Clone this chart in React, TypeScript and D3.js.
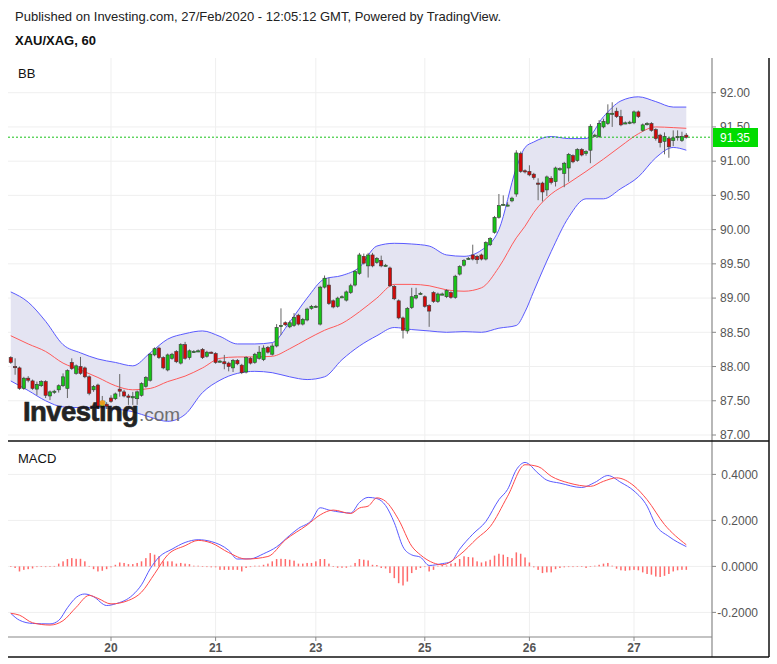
import React from 'react';
import * as d3 from 'd3';

// hourly candles: [open, high, low, close]
const candles: [number, number, number, number][] = [
  [88.13, 88.15, 88.04, 88.06], [88.0, 88.12, 87.88, 87.99], [87.98, 88.0, 87.66, 87.68], [87.68, 87.85, 87.66, 87.83],
  [87.83, 87.86, 87.77, 87.8], [87.79, 87.81, 87.66, 87.68], [87.67, 87.78, 87.58, 87.74], [87.72, 87.8, 87.7, 87.78],
  [87.78, 87.8, 87.54, 87.58], [87.57, 87.65, 87.51, 87.63], [87.63, 87.66, 87.6, 87.64], [87.66, 87.74, 87.62, 87.72],
  [87.72, 87.9, 87.7, 87.85], [87.68, 87.96, 87.54, 87.94], [88.06, 88.12, 87.95, 87.97], [87.9, 88.03, 87.88, 88.01],
  [88.0, 88.14, 87.88, 87.9], [87.98, 88.0, 87.83, 87.85], [87.85, 87.87, 87.58, 87.61], [87.66, 87.73, 87.63, 87.71],
  [87.73, 87.75, 87.39, 87.41], [87.41, 87.57, 87.39, 87.48], [87.45, 87.48, 87.38, 87.42], [87.54, 87.58, 87.47, 87.49],
  [87.53, 87.62, 87.51, 87.6], [87.67, 87.89, 87.56, 87.64], [87.63, 87.66, 87.55, 87.57], [87.57, 87.6, 87.44, 87.55],
  [87.56, 87.63, 87.44, 87.56], [87.53, 87.65, 87.44, 87.63], [87.58, 87.77, 87.56, 87.75], [87.71, 87.86, 87.69, 87.84],
  [87.8, 88.2, 87.78, 88.18], [88.17, 88.28, 88.15, 88.26], [88.27, 88.29, 88.11, 88.13], [88.13, 88.15, 87.96, 87.98],
  [87.95, 88.19, 87.93, 88.17], [88.12, 88.2, 88.1, 88.18], [88.22, 88.24, 88.05, 88.07], [88.05, 88.34, 88.03, 88.32],
  [88.32, 88.36, 88.1, 88.12], [88.13, 88.25, 88.1, 88.23], [88.22, 88.24, 88.2, 88.22], [88.22, 88.25, 88.21, 88.23],
  [88.25, 88.27, 88.11, 88.13], [88.15, 88.23, 88.13, 88.21], [88.21, 88.22, 88.19, 88.2], [88.19, 88.21, 88.04, 88.06],
  [88.08, 88.1, 88.06, 88.08], [88.07, 88.17, 87.96, 88.04], [88.05, 88.07, 87.93, 88.0], [87.98, 88.11, 87.92, 88.09],
  [88.09, 88.11, 88.02, 88.04], [88.02, 88.04, 87.89, 87.91], [87.92, 88.15, 87.9, 88.13], [88.12, 88.14, 88.03, 88.05],
  [88.06, 88.2, 88.04, 88.18], [88.12, 88.3, 88.1, 88.21], [88.1, 88.31, 88.08, 88.27], [88.28, 88.3, 88.19, 88.21],
  [88.18, 88.34, 88.16, 88.3], [88.3, 88.62, 88.28, 88.57], [88.6, 88.85, 88.46, 88.6], [88.64, 88.66, 88.59, 88.61],
  [88.58, 88.67, 88.56, 88.64], [88.6, 88.78, 88.58, 88.72], [88.75, 88.77, 88.6, 88.62], [88.62, 88.71, 88.6, 88.69],
  [88.68, 88.86, 88.66, 88.84], [88.85, 88.9, 88.83, 88.88], [88.88, 88.9, 88.86, 88.88], [88.62, 89.18, 88.6, 89.16],
  [89.16, 89.33, 89.14, 89.29], [89.19, 89.3, 88.9, 88.92], [88.96, 88.98, 88.85, 88.87], [88.88, 89.02, 88.86, 89.0],
  [89.02, 89.04, 89.0, 89.02], [88.97, 89.11, 88.95, 89.09], [89.08, 89.21, 89.06, 89.18], [89.19, 89.41, 89.17, 89.39],
  [89.36, 89.66, 89.34, 89.63], [89.61, 89.65, 89.49, 89.51], [89.47, 89.66, 89.3, 89.63], [89.63, 89.66, 89.45, 89.47],
  [89.52, 89.6, 89.5, 89.58], [89.55, 89.62, 89.45, 89.47], [89.48, 89.5, 89.46, 89.48], [89.44, 89.46, 89.16, 89.18],
  [89.17, 89.19, 88.97, 88.99], [88.96, 88.98, 88.69, 88.71], [88.71, 88.73, 88.41, 88.53], [88.52, 88.87, 88.48, 88.85],
  [88.86, 89.15, 88.84, 89.02], [89.0, 89.15, 88.98, 89.04], [89.07, 89.09, 89.05, 89.07], [89.02, 89.04, 88.86, 88.88],
  [88.89, 88.91, 88.58, 88.81], [89.08, 89.1, 88.93, 88.95], [88.95, 89.08, 88.93, 89.06], [89.06, 89.08, 89.04, 89.06],
  [89.02, 89.13, 89.0, 89.11], [89.08, 89.1, 88.99, 89.01], [89.01, 89.34, 88.99, 89.32], [89.35, 89.48, 89.33, 89.46],
  [89.48, 89.57, 89.46, 89.55], [89.58, 89.6, 89.56, 89.58], [89.63, 89.78, 89.55, 89.57], [89.61, 89.63, 89.5, 89.56],
  [89.63, 89.65, 89.55, 89.57], [89.57, 89.83, 89.55, 89.81], [89.78, 89.89, 89.76, 89.87], [89.96, 90.2, 89.94, 90.18],
  [90.18, 90.52, 90.16, 90.35], [90.37, 90.5, 90.35, 90.37], [90.36, 90.4, 90.34, 90.36], [90.42, 90.48, 90.4, 90.46],
  [90.52, 91.16, 90.48, 91.12], [91.11, 91.14, 90.83, 90.85], [90.86, 90.88, 90.82, 90.85], [90.85, 90.94, 90.78, 90.8],
  [90.81, 90.83, 90.73, 90.76], [90.68, 90.75, 90.43, 90.67], [90.68, 90.7, 90.41, 90.55], [90.58, 90.79, 90.49, 90.77],
  [90.75, 90.78, 90.66, 90.69], [90.7, 90.92, 90.63, 90.9], [90.88, 90.91, 90.86, 90.89], [90.82, 90.99, 90.62, 90.97],
  [90.9, 91.12, 90.7, 91.1], [91.08, 91.1, 90.97, 90.99], [91.01, 91.19, 90.99, 91.17], [91.17, 91.19, 91.07, 91.09],
  [91.11, 91.16, 91.08, 91.14], [91.16, 91.54, 90.97, 91.51], [91.38, 91.4, 91.35, 91.38], [91.36, 91.6, 91.34, 91.55],
  [91.5, 91.62, 91.48, 91.58], [91.55, 91.83, 91.53, 91.7], [91.7, 91.86, 91.5, 91.7], [91.73, 91.78, 91.63, 91.65],
  [91.65, 91.75, 91.51, 91.53], [91.56, 91.58, 91.54, 91.56], [91.56, 91.59, 91.54, 91.57], [91.56, 91.74, 91.54, 91.72],
  [91.72, 91.74, 91.63, 91.65], [91.45, 91.55, 91.43, 91.53], [91.55, 91.57, 91.52, 91.55], [91.55, 91.57, 91.43, 91.45],
  [91.46, 91.48, 91.3, 91.33], [91.38, 91.4, 91.2, 91.27], [91.29, 91.42, 91.1, 91.36], [91.33, 91.35, 91.05, 91.21],
  [91.3, 91.45, 91.22, 91.34], [91.36, 91.45, 91.3, 91.36], [91.3, 91.43, 91.28, 91.36], [91.38, 91.41, 91.33, 91.35],
];

const dayLabels = ['20', '21', '23', '25', '26', '27'];
const dayIdx = [23, 47, 70, 95, 119, 143];
const priceTicks = [87, 87.5, 88, 88.5, 89, 89.5, 90, 90.5, 91, 91.5, 92];
const macdTicks = [-0.2, 0, 0.2, 0.4];
const lastPrice = 91.35;

// Bollinger bands read at these candle indices
const bbIdx = [0, 4, 8, 12, 16, 20, 24, 28, 32, 36, 40, 44, 48, 52, 56, 60, 64, 68, 72, 76, 80, 84, 88, 92, 96, 100, 104, 108, 112, 116, 118, 120, 124, 128, 132, 136, 140, 144, 148, 152, 155];
const bbUpper = [89.09, 88.94, 88.66, 88.32, 88.2, 88.11, 88.06, 88.01, 88.2, 88.4, 88.48, 88.52, 88.44, 88.33, 88.33, 88.35, 88.65, 89.0, 89.28, 89.33, 89.45, 89.76, 89.8, 89.79, 89.76, 89.63, 89.61, 89.7, 90.0, 90.9, 91.2, 91.28, 91.36, 91.33, 91.33, 91.65, 91.88, 91.94, 91.87, 91.79, 91.79];
const bbMid = [88.45, 88.33, 88.22, 88.05, 87.95, 87.84, 87.72, 87.66, 87.68, 87.78, 87.86, 87.98, 88.12, 88.14, 88.14, 88.15, 88.26, 88.4, 88.53, 88.63, 88.8, 89.0, 89.2, 89.2, 89.18, 89.12, 89.1, 89.15, 89.45, 89.88, 90.05, 90.25, 90.52, 90.68, 90.85, 91.03, 91.22, 91.4, 91.5, 91.49, 91.48];
const bbLower = [87.79, 87.65, 87.5, 87.41, 87.4, 87.4, 87.38, 87.34, 87.26, 87.2, 87.3, 87.62, 87.8, 87.9, 87.93, 87.91, 87.85, 87.81, 87.85, 88.1, 88.3, 88.45, 88.57, 88.54, 88.52, 88.5, 88.51, 88.5, 88.56, 88.6, 88.8, 89.1, 89.68, 90.18, 90.45, 90.45, 90.6, 90.77, 91.05, 91.2, 91.16];

// MACD line and signal, read at these candle indices
const macdIdx = [0, 2, 5, 9, 11, 13, 15, 17, 19, 22, 24, 28, 30, 32, 34, 37, 40, 43, 46, 50, 52, 55, 58, 61, 64, 66, 69, 71, 73, 76, 78, 80, 82, 84, 86, 88, 90, 92, 94, 96, 99, 101, 103, 106, 109, 112, 114, 116, 118, 121, 123, 126, 131, 134, 137, 140, 143, 146, 148, 151, 155];
const macdLine = [-0.204, -0.234, -0.248, -0.25, -0.235, -0.18, -0.135, -0.12, -0.132, -0.17, -0.163, -0.124, -0.08, -0.01, 0.04, 0.075, 0.104, 0.116, 0.108, 0.07, 0.032, 0.033, 0.055, 0.085, 0.135, 0.165, 0.2, 0.255, 0.245, 0.235, 0.232, 0.278, 0.3, 0.295, 0.265, 0.19, 0.085, 0.05, 0.04, 0.004, 0.012, 0.02, 0.075, 0.14, 0.195, 0.29, 0.335, 0.42, 0.452, 0.405, 0.375, 0.362, 0.343, 0.365, 0.395, 0.365, 0.328, 0.262, 0.18, 0.13, 0.086];
const sigIdx = [0, 2, 5, 9, 12, 15, 18, 20, 23, 27, 30, 33, 36, 40, 43, 46, 50, 54, 59, 63, 68, 71, 74, 78, 80, 82, 84, 86, 89, 92, 94, 97, 99, 103, 107, 110, 114, 118, 121, 124, 128, 133, 136, 139, 143, 146, 150, 155];
const sigLine = [-0.204, -0.212, -0.245, -0.255, -0.236, -0.178, -0.126, -0.139, -0.163, -0.148, -0.112, -0.032, 0.05, 0.09, 0.113, 0.102, 0.06, 0.032, 0.043, 0.115, 0.18, 0.224, 0.245, 0.23, 0.254, 0.262, 0.298, 0.283, 0.203, 0.088, 0.05, 0.015, 0.007, 0.05, 0.122, 0.173, 0.305, 0.442, 0.434, 0.392, 0.363, 0.348, 0.37, 0.385, 0.35, 0.29, 0.182, 0.094];

// histogram, one bar per candle
const hist = [
  -0.002, -0.007, -0.022, -0.015, -0.012, -0.009, -0.003, -0.001, -0.003, 0.0, 0.002, 0.012, 0.022, 0.032, 0.036, 0.033,
  0.033, 0.022, 0.002, -0.012, -0.022, -0.019, -0.012, -0.004, 0.007, 0.017, 0.015, 0.01, 0.01, 0.015, 0.022, 0.036,
  0.058, 0.051, 0.044, 0.022, 0.022, 0.022, 0.012, 0.015, 0.012, 0.01, 0.003, 0.003, 0.001, -0.003, -0.004, -0.004,
  -0.015, -0.015, -0.015, -0.015, -0.015, -0.022, -0.007, -0.003, 0.003, 0.003, 0.007, 0.012, 0.022, 0.032, 0.033, 0.032,
  0.029, 0.025, 0.012, 0.012, 0.015, 0.015, 0.022, 0.032, 0.032, 0.012, 0.0, -0.006, -0.006, -0.006, 0.003, 0.015,
  0.032, 0.029, 0.026, 0.007, 0.006, -0.007, -0.009, -0.029, -0.051, -0.073, -0.083, -0.066, -0.029, -0.015, -0.007, -0.003,
  -0.022, -0.015, 0.003, 0.006, 0.004, 0.012, 0.015, 0.032, 0.044, 0.041, 0.039, 0.022, 0.017, 0.022, 0.029, 0.047,
  0.055, 0.051, 0.041, 0.036, 0.061, 0.055, 0.039, 0.017, -0.004, -0.015, -0.029, -0.026, -0.026, -0.012, -0.007, -0.004,
  -0.003, -0.003, 0.001, -0.002, -0.007, -0.001, 0.003, 0.007, 0.012, 0.015, 0.003, -0.01, -0.017, -0.019, -0.017, -0.015,
  -0.017, -0.026, -0.033, -0.036, -0.044, -0.046, -0.041, -0.033, -0.022, -0.017, -0.015, -0.015,
];

const FONT = '"Liberation Sans", Arial, Helvetica, sans-serif';

export default function App() {
  const W = 777;
  const H = 664;
  const left = 8;
  const axisX = 712;
  const frameR = 769;
  const topY = 58;
  const divY = 441;
  const xAxisY = 637;
  const bottomY = 657;

  const x = d3.scaleLinear().domain([0, candles.length - 1]).range([10.76, 686.3]);
  const yP = d3.scaleLinear().domain([87, 92]).range([435, 92.7]);
  const yM = d3.scaleLinear().domain([-0.2, 0.4]).range([612.4, 474.4]);

  const pts = (idx: number[], vals: number[]) => idx.map((d, i) => [d, vals[i]] as [number, number]);

  const bandLine = d3.line<[number, number]>().x(d => x(d[0])).y(d => yP(d[1])).curve(d3.curveMonotoneX);
  const bandArea = d3.area<number>()
    .x(d => x(bbIdx[d]))
    .y0(d => yP(bbLower[d]))
    .y1(d => yP(bbUpper[d]))
    .curve(d3.curveMonotoneX);
  const macdGen = d3.line<[number, number]>().x(d => x(d[0])).y(d => yM(d[1])).curve(d3.curveMonotoneX);

  const bodyW = 3.2;
  const green = '#17c417';
  const red = '#d10a0a';

  return (
    <div style={{ position: 'absolute', left: 0, top: 0, width: W, height: H, background: '#fff' }}>
      <svg width={W} height={H} style={{ display: 'block', fontFamily: FONT }}>
        <defs>
          <clipPath id="topClip">
            <rect x={left} y={topY} width={axisX - left} height={divY - topY} />
          </clipPath>
          <clipPath id="botClip">
            <rect x={left} y={divY} width={axisX - left} height={xAxisY - divY} />
          </clipPath>
        </defs>

        <text x={15} y={21} fontSize={13} fill="#222">
          Published on Investing.com, 27/Feb/2020 - 12:05:12 GMT, Powered by TradingView.
        </text>
        <text x={15} y={45} fontSize={13} fontWeight="bold" fill="#111">XAU/XAG, 60</text>

        {/* grid */}
        <g stroke="#efefef" strokeWidth={1}>
          {priceTicks.map(t => (
            <line key={'pg' + t} x1={left} x2={axisX} y1={yP(t)} y2={yP(t)} />
          ))}
          {macdTicks.map(t => (
            <line key={'mg' + t} x1={left} x2={axisX} y1={yM(t)} y2={yM(t)} />
          ))}
          {dayIdx.map(d => (
            <g key={'vg' + d}>
              <line x1={x(d)} x2={x(d)} y1={topY} y2={divY} />
              <line x1={x(d)} x2={x(d)} y1={divY} y2={xAxisY} />
            </g>
          ))}
        </g>

        {/* price panel */}
        <g clipPath="url(#topClip)">
          <path d={bandArea(d3.range(bbIdx.length)) || ''} fill="#e4e4f2" />
          <path d={bandLine(pts(bbIdx, bbUpper)) || ''} fill="none" stroke="#5a5aff" strokeWidth={1} />
          <path d={bandLine(pts(bbIdx, bbLower)) || ''} fill="none" stroke="#5a5aff" strokeWidth={1} />
          <path d={bandLine(pts(bbIdx, bbMid)) || ''} fill="none" stroke="#ff5a5a" strokeWidth={1} />

          <line x1={left} x2={axisX} y1={yP(lastPrice)} y2={yP(lastPrice)} stroke="#19c219" strokeWidth={1} strokeDasharray="2,2" />

          {candles.map((c, i) => {
            const [o, h, l, cl] = c;
            const cx = x(i);
            const top = yP(Math.max(o, cl));
            const bot = yP(Math.min(o, cl));
            const up = cl >= o;
            return (
              <g key={'c' + i}>
                <line x1={cx} x2={cx} y1={yP(h)} y2={yP(l)} stroke="#666" strokeWidth={1} />
                <rect
                  x={cx - bodyW / 2}
                  y={top}
                  width={bodyW}
                  height={Math.max(bot - top, 1.2)}
                  fill={up ? green : red}
                  stroke="#3a3a3a"
                  strokeWidth={0.6}
                />
              </g>
            );
          })}

          {/* watermark */}
          <g opacity={0.92}>
            <text x={23} y={421} fontSize={27.5} fontWeight="bold" fill="#111" stroke="#111" strokeWidth={0.7} letterSpacing={-0.6}>Investing</text>
            <circle cx={102.5} cy={403} r={2.8} fill="#f5a11c" />
            <text x={139} y={421} fontSize={19} fill="#666">.com</text>
          </g>
        </g>
        <text x={18} y={78} fontSize={13} fill="#111">BB</text>

        {/* macd panel */}
        <g clipPath="url(#botClip)">
          {hist.map((v, i) => (
            <rect
              key={'h' + i}
              x={x(i) - 0.75}
              y={Math.min(yM(v), yM(0))}
              width={1.5}
              height={Math.max(Math.abs(yM(v) - yM(0)), 0.6)}
              fill="#ff6a6a"
            />
          ))}
          <path d={macdGen(pts(macdIdx, macdLine)) || ''} fill="none" stroke="#5a5aff" strokeWidth={1} />
          <path d={macdGen(pts(sigIdx, sigLine)) || ''} fill="none" stroke="#ff4a4a" strokeWidth={1} />
        </g>
        <text x={18} y={463} fontSize={13} fill="#111">MACD</text>

        {/* axes and frame */}
        <line x1={axisX} x2={axisX} y1={topY} y2={bottomY} stroke="#888" strokeWidth={1.2} />
        <line x1={left} x2={axisX} y1={xAxisY} y2={xAxisY} stroke="#888" strokeWidth={1.2} />
        <line x1={left} x2={frameR} y1={divY} y2={divY} stroke="#111" strokeWidth={1.5} />
        <line x1={left} x2={frameR} y1={bottomY} y2={bottomY} stroke="#111" strokeWidth={1.5} />
        <line x1={frameR} x2={frameR} y1={topY} y2={bottomY} stroke="#111" strokeWidth={1.5} />

        {priceTicks.map(t => (
          <g key={'pt' + t}>
            <line x1={axisX} x2={axisX + 4} y1={yP(t)} y2={yP(t)} stroke="#888" />
            <text x={720} y={yP(t) + 4.3} fontSize={12} fill="#555">{t.toFixed(2)}</text>
          </g>
        ))}
        {macdTicks.map(t => (
          <g key={'mt' + t}>
            <line x1={axisX} x2={axisX + 4} y1={yM(t)} y2={yM(t)} stroke="#888" />
            <text x={758} y={yM(t) + 4.3} fontSize={12} fill="#555" textAnchor="end">{t.toFixed(4)}</text>
          </g>
        ))}

        <rect x={713} y={128} width={45} height={19} fill="#00dc00" />
        <text x={720} y={yP(lastPrice) + 4.5} fontSize={12} fill="#fff">{lastPrice.toFixed(2)}</text>

        {dayIdx.map((d, i) => (
          <g key={'dt' + d}>
            <line x1={x(d)} x2={x(d)} y1={xAxisY} y2={xAxisY + 4} stroke="#888" />
            <text x={x(d)} y={652} fontSize={12} fontWeight="bold" fill="#555" textAnchor="middle">{dayLabels[i]}</text>
          </g>
        ))}
      </svg>
    </div>
  );
}
